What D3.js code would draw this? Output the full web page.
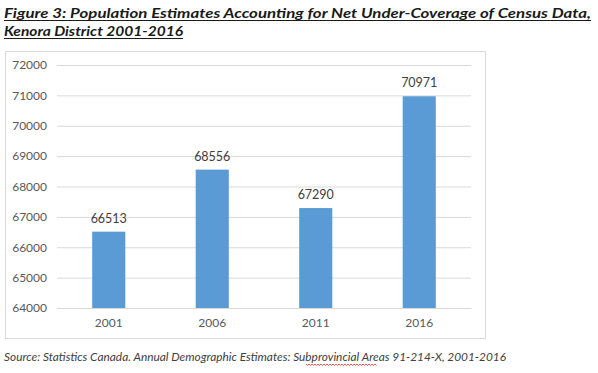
<!DOCTYPE html>
<html><head><meta charset="utf-8">
<script src="https://cdn.jsdelivr.net/npm/d3@7"></script>
<style>body{margin:0;background:#fff}svg{display:block}</style>
</head><body>
<svg id="c" width="598" height="373"></svg>
<script>
const years = ["2001","2006","2011","2016"];
const population = [66513, 68556, 67290, 70971];
const yTicks = [64000,65000,66000,67000,68000,69000,70000,71000,72000];
const titleLines = ["Figure 3: Population Estimates Accounting for Net Under-Coverage of Census Data,", "Kenora District 2001-2016"];
const sourceText = ["Source: Statistics Canada. Annual Demographic Estimates: ", "Subprovincial", " Areas 91-214-X, 2001-2016"];

const svg = d3.select("#c");
const font = "'Lato', 'Open Sans', sans-serif";

// title
const tl = svg.append("g").attr("font-family", font).attr("font-weight","bold").attr("font-style","italic")
  .attr("font-size", 14).attr("fill", "#1a1a1a");
tl.append("text").attr("x",4).attr("y",18).attr("textLength",587).attr("lengthAdjust","spacingAndGlyphs").text(titleLines[0]);
tl.append("text").attr("x",4).attr("y",36).attr("textLength",179).attr("lengthAdjust","spacingAndGlyphs").text(titleLines[1]);
tl.append("line").attr("x1",4).attr("x2",591).attr("y1",20.5).attr("y2",20.5).attr("stroke","#1a1a1a").attr("stroke-width",1.2);
tl.append("line").attr("x1",4).attr("x2",183).attr("y1",38.5).attr("y2",38.5).attr("stroke","#1a1a1a").attr("stroke-width",1.2);

// chart border
svg.append("rect").attr("x",5.5).attr("y",51.5).attr("width",480).attr("height",287)
  .attr("fill","#fff").attr("stroke","#d9d9d9").attr("stroke-width",1);

const x = d3.scaleBand().domain(years).range([57,471]).paddingInner(0.68).paddingOuter(0.34);
const y = d3.scaleLinear().domain([64000,72000]).range([308,65]);

// gridlines
const yAxis = d3.axisLeft(y).tickValues(yTicks).tickSize(-(471-57)).tickPadding(10).tickFormat(d3.format("d"));
const gy = svg.append("g").attr("transform","translate(57,0)").call(yAxis);
gy.select(".domain").remove();
gy.selectAll(".tick line").attr("stroke","#d9d9d9");
gy.selectAll(".tick text").attr("fill","#595959").attr("font-size",12).attr("font-family",font);

// bars
svg.append("g").selectAll("rect").data(population).join("rect")
  .attr("x",(d,i)=>x(years[i])).attr("width",x.bandwidth())
  .attr("y",d=>y(d)).attr("height",d=>y(64000)-y(d)).attr("fill","#5b9bd5");

// labels
svg.append("g").selectAll("text").data(population).join("text")
  .attr("x",(d,i)=>x(years[i])+x.bandwidth()/2).attr("y",d=>y(d)-9)
  .attr("text-anchor","middle").attr("font-family",font).attr("font-size",12.5).attr("fill","#404040")
  .text(d=>d);

// x axis
const gx = svg.append("g").attr("transform","translate(0,308)").call(d3.axisBottom(x).tickSize(0).tickPadding(10));
gx.select(".domain").attr("stroke","#d9d9d9");
gx.selectAll(".tick text").attr("fill","#595959").attr("font-size",12).attr("font-family",font);

// source
const st = svg.append("text").attr("x",4).attr("y",361).attr("font-family",font).attr("font-style","italic")
  .attr("font-size",12).attr("fill","#404040").attr("textLength",502).attr("lengthAdjust","spacingAndGlyphs");
sourceText.forEach(s=>st.append("tspan").text(s));
// spellcheck wavy underline under "Subprovincial"
const wx0 = 306, wx1 = 376, wy = 364;
let p = `M${wx0},${wy}`;
for (let xx = wx0, k=0; xx < wx1; xx += 1.5, k++) p += ` L${xx+1.5},${wy + (k%2? 0 : 1.5)}`;
svg.append("path").attr("d",p).attr("fill","none").attr("stroke","#e03030").attr("stroke-width",0.8);
</script>
</body></html>
